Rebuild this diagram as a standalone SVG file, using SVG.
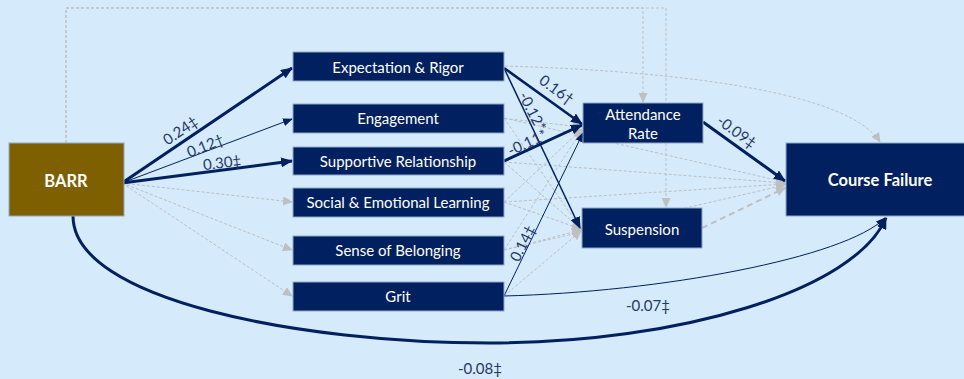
<svg xmlns="http://www.w3.org/2000/svg" width="964" height="379" viewBox="0 0 964 379">
<style>
.box{fill:#002060;stroke:#8EA9C8;stroke-width:1}
.t{font-family:Lato,"Open Sans","Liberation Sans",sans-serif;font-size:15px;fill:#fff;text-anchor:middle;dominant-baseline:central}
.tb{font-family:Lato,"Open Sans","Liberation Sans",sans-serif;font-size:16.5px;font-weight:bold;fill:#fff;text-anchor:middle;dominant-baseline:central}
.lab{font-family:Lato,"Open Sans","Liberation Sans",sans-serif;font-size:15px;fill:#1F3864;text-anchor:middle;dominant-baseline:central}
.s{fill:none;stroke:#002060}
.d{fill:none;stroke:#BFBFBF;stroke-width:1;stroke-dasharray:3 2}
</style>
<defs>
<marker id="an" markerUnits="userSpaceOnUse" markerWidth="12" markerHeight="10" refX="11" refY="5" orient="auto"><path d="M0,0 L12,5 L0,10 z" fill="#002060"/></marker>
<marker id="ans" markerUnits="userSpaceOnUse" markerWidth="10" markerHeight="8" refX="9" refY="4" orient="auto"><path d="M0,0 L10,4 L0,8 z" fill="#002060"/></marker>
<marker id="ag" markerUnits="userSpaceOnUse" markerWidth="10" markerHeight="9" refX="9" refY="4.5" orient="auto"><path d="M0,0 L10,4.5 L0,9 z" fill="#BFBFBF"/></marker>
</defs>
<rect width="964" height="379" fill="#D5EAFB"/>
<g id="connectors">
<path class="d" d="M66,143 V8 H643 V102" marker-end="url(#ag)"/>
<path class="d" d="M66,143 V8 H666 V207" marker-end="url(#ag)"/>
<path class="d" d="M505,66 C700,72 850,95 880,142" marker-end="url(#ag)"/>
<path class="d" d="M122,183 L292,202" marker-end="url(#ag)"/>
<path class="d" d="M122,183 L292,250" marker-end="url(#ag)"/>
<path class="d" d="M122,183 L292,296" marker-end="url(#ag)"/>
<path class="d" d="M500,118 L582,127" marker-end="url(#ag)"/>
<path class="d" d="M504,202 L582,129" marker-end="url(#ag)"/>
<path class="d" d="M504,250 L582,130" marker-end="url(#ag)"/>
<path class="d" d="M504,118 L581,229" marker-end="url(#ag)"/>
<path class="d" d="M504,162 L581,229" marker-end="url(#ag)"/>
<path class="d" d="M504,202 L581,229" marker-end="url(#ag)"/>
<path class="d" d="M504,250 L581,230" marker-end="url(#ag)"/>
<path class="d" d="M504,296 L581,231" marker-end="url(#ag)"/>
<path class="d" d="M504,118 L785,182" marker-end="url(#ag)"/>
<path class="d" d="M504,162 L785,183" marker-end="url(#ag)"/>
<path class="d" d="M504,202 L785,184" marker-end="url(#ag)"/>
<path class="d" d="M504,250 L785,185" marker-end="url(#ag)"/>
<path d="M702,228 L785,188" fill="none" stroke="#BFBFBF" stroke-width="2" stroke-dasharray="6 4" marker-end="url(#ag)"/>
<path class="s" stroke-width="3" d="M122,183 L292,68" marker-end="url(#an)"/>
<path class="s" stroke-width="1" d="M122,183 L292,119" marker-end="url(#ans)"/>
<path class="s" stroke-width="3" d="M122,183 L292,161" marker-end="url(#an)"/>
<path class="s" stroke-width="2.5" d="M504,68 L582,124" marker-end="url(#an)"/>
<path class="s" stroke-width="1.5" d="M504,68 L580,228" marker-end="url(#an)"/>
<path class="s" stroke-width="3" d="M504,161 L582,125" marker-end="url(#an)"/>
<path class="s" stroke-width="1" d="M504,296 L583,133" marker-end="url(#ans)"/>
<path class="s" stroke-width="3" d="M703,122 L785,181" marker-end="url(#an)"/>
<path class="s" stroke-width="1" d="M504,296 C660,292 845,258 885,218" marker-end="url(#ans)"/>
<path class="s" stroke-width="3" d="M73,216 C73,300 300,343 490,343 C680,343 855,290 886,218" marker-end="url(#an)"/>
<text class="lab" transform="translate(180,130) rotate(-34)">0.24‡</text>
<text class="lab" transform="translate(205,145) rotate(-22)">0.12†</text>
<text class="lab" transform="translate(222,162) rotate(-7)">0.30‡</text>
<text class="lab" transform="translate(557,89) rotate(36)">0.16†</text>
<text class="lab" transform="translate(533,111) rotate(63)">-0.12*</text>
<text class="lab" transform="translate(527,142) rotate(-25)">-0.11*</text>
<text class="lab" transform="translate(522,243) rotate(-63)">0.14‡</text>
<text class="lab" transform="translate(737,131) rotate(36)">-0.09‡</text>
<text class="lab" x="648" y="305">-0.07‡</text>
<text class="lab" x="480" y="368">-0.08‡</text>
</g>
<g id="barr"><rect x="9" y="143" width="115" height="73" fill="#7F6000" stroke="#8EA9C8" stroke-width="1"/><text class="tb" x="66" y="181">BARR</text></g>
<g id="expectation"><rect class="box" x="293" y="52" width="211" height="29"/><text class="t" x="398" y="67">Expectation &amp; Rigor</text></g>
<g id="engagement"><rect class="box" x="293" y="104" width="211" height="29"/><text class="t" x="398" y="118">Engagement</text></g>
<g id="supportive"><rect class="box" x="293" y="147" width="211" height="28"/><text class="t" x="398" y="161">Supportive Relationship</text></g>
<g id="sel"><rect class="box" x="293" y="188" width="211" height="29"/><text class="t" x="398" y="202">Social &amp; Emotional Learning</text></g>
<g id="belonging"><rect class="box" x="293" y="236" width="211" height="29"/><text class="t" x="398" y="250">Sense of Belonging</text></g>
<g id="grit"><rect class="box" x="293" y="282" width="211" height="29"/><text class="t" x="398" y="296">Grit</text></g>
<g id="attendance"><rect class="box" x="583" y="103" width="120" height="40"/><text class="t" x="643" y="114">Attendance</text><text class="t" x="643" y="133">Rate</text></g>
<g id="suspension"><rect class="box" x="582" y="208" width="120" height="40"/><text class="t" x="642" y="229">Suspension</text></g>
<g id="coursefailure"><rect class="box" x="786" y="143" width="190" height="73"/><text class="tb" x="880" y="180">Course Failure</text></g>
</svg>
